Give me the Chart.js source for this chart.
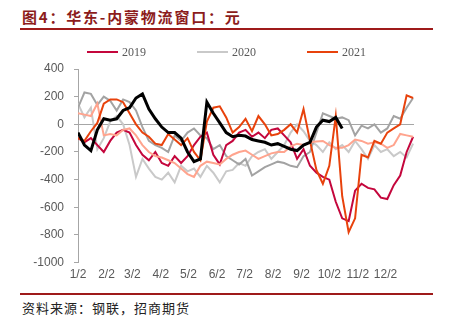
<!DOCTYPE html>
<html>
<head>
<meta charset="utf-8">
<script src="https://cdn.jsdelivr.net/npm/chart.js@4/dist/chart.umd.min.js"></script>
<style>
  html, body { margin: 0; padding: 0; background: #fff; }
  #wrap { position: relative; width: 449px; height: 322px; overflow: hidden; }
  #title {
    position: absolute; left: 22px; top: 6px;
    font: bold 15px "Noto Sans CJK SC", sans-serif; letter-spacing: 1.8px;
    color: #8c1c1c; white-space: nowrap;
  }
  #rule-top { position: absolute; left: 20px; top: 28px; width: 413px; height: 2px; background: #9e1a1a; }
  #rule-bottom { position: absolute; left: 20px; top: 293px; width: 413px; height: 2px; background: #9e1a1a; }
  #source {
    position: absolute; left: 22px; top: 298px;
    font: 13px "Noto Sans CJK SC", sans-serif; letter-spacing: 1px;
    color: #222; white-space: nowrap;
  }
  #box { position: absolute; left: 0; top: 38px; width: 449px; height: 249px; }
</style>
</head>
<body>
<div id="wrap">
  <div id="title">图4：华东-内蒙物流窗口：元</div>
  <div id="rule-top"></div>
  <div id="box"><canvas id="chart"></canvas></div>
  <div id="rule-bottom"></div>
  <div id="source">资料来源：钢联，招商期货</div>
</div>
<script>
// weekly readings, day 0 = 1/2
const weekStep = 7;
const monthTickDays = [0, 31, 59, 90, 120, 151, 181, 212, 243, 273, 304, 334];
const monthTickLabels = ['1/2', '2/2', '3/2', '4/2', '5/2', '6/2', '7/2', '8/2', '9/2', '10/2', '11/2', '12/2'];

const y2019 = [-100, -130, -100, -150, -200, -120, -60, -40, -60, -150, -220, -260, -200, -280, -300, -230,
  -280, -230, -150, -90, -60, -220, -290, -150, -120, -60, -40, -90, -60, -100, -40, -30, -80, -130, -250,
  -180, -300, -350, -380, -400, -560, -680, -700, -480, -430, -460, -470, -530, -540, -440, -370, -200, -90];
const y2020 = [150, 50, 120, -180, -100, 20, 60, 0, -150, -380, -250, -320, -380, -400, -350, -420, -300,
  -340, -320, -380, -300, -350, -420, -340, -330, -280, -300, -230, -200, -180, -250, -200, -150, -60, 0,
  -50, -120, -150, -200, -130, -180, -150, -200, -120, -180, -250, -150, -200, -180, -230, -200, -240, -140];
const y2021 = [-100, -120, -50, 10, 150, 180, 180, 160, 80, 0, -60, -90, -140, -150, -70, -110, -150, -100,
  -200, -260, 20, 120, 130, 50, -60, -20, 40, -50, 60, 0, -80, -70, -40, 0, -60, 110, -120, -330, -430,
  -300, 60, -520, -780, -680, -220, -240, -120, -140, -60, -30, 0, 210, 190];
const yBlack = [-60, -150, -190, -40, 40, 30, 40, 100, 120, 190, 220, 110, 40, -20, -60, -60, -100, -200,
  -270, -250, 160, 80, 10, -60, -90, -80, -85, -110, -120, -130, -150, -140, -160, -180, -190, -150, -130,
  -20, 30, 20, 50, -30];
const ySalmon = [80, 70, 60, 150, -80, -70, -80, -40, -30, -80, -150, -200, -230, -240, -260, -280, -320,
  -360, -380, -300, -270, -280, -290, -250, -220, -200, -190, -220, -250, -230, -210, -200, -200, -160,
  -140, -150, -130, -125, -120, -150, -170, -170, -150, -110, -120, -140, -130, -140, -170, -150, -70, -80, -90];
const yDarkGray = [120, 230, 220, 140, 200, 170, 100, 180, 160, 100, -20, -120, -150, -170, -200, -80, -120,
  -60, -30, -80, -100, -180, -150, -230, -260, -290, -250, -370, -340, -310, -290, -270, -280, -300, -310,
  -230, -200, -60, 80, 60, 40, 50, 30, -80, -10, -30, 0, -60, -30, 60, 40, 120, 190];

const toPoints = arr => arr.map((v, i) => ({ x: i * weekStep, y: v }));
const shown = ['2019', '2020', '2021'];

// legend drawn on the canvas, from the dataset labels and colours
const lineLegend = {
  id: 'lineLegend',
  afterDraw(chart) {
    const c = chart.ctx;
    const items = chart.data.datasets.filter(d => shown.includes(d.label));
    c.save();
    c.font = '12px "Liberation Serif"';
    c.textBaseline = 'middle';
    items.forEach((d, i) => {
      const x = 87 + i * 110, y = 14;
      c.strokeStyle = d.borderColor;
      c.lineWidth = 2;
      c.beginPath();
      c.moveTo(x, y);
      c.lineTo(x + 31, y);
      c.stroke();
      c.fillStyle = '#595959';
      c.fillText(d.label, x + 35, y + 1);
    });
    c.restore();
  }
};

const ctx = document.getElementById('chart').getContext('2d');
const chart = new Chart(ctx, {
  type: 'line',
  data: {
    datasets: [
      { label: '2019', data: toPoints(y2019), borderColor: '#c4063c', borderWidth: 2, order: 4 },
      { label: '2020', data: toPoints(y2020), borderColor: '#c9c9c9', borderWidth: 2, order: 6 },
      { label: '2021', data: toPoints(y2021), borderColor: '#e8420c', borderWidth: 2, order: 2 },
      { label: 'other1', data: toPoints(ySalmon), borderColor: '#ffa48e', borderWidth: 2, order: 3 },
      { label: 'other2', data: toPoints(yDarkGray), borderColor: '#a3a3a3', borderWidth: 2, order: 5 },
      { label: 'other3', data: toPoints(yBlack), borderColor: '#000000', borderWidth: 3, order: 1 }
    ]
  },
  options: {
    responsive: true,
    maintainAspectRatio: false,
    animation: false,
    elements: { point: { radius: 0 }, line: { tension: 0 } },
    layout: { padding: { left: 0, right: 35, top: 31, bottom: 0 } },
    scales: {
      x: {
        type: 'linear',
        min: 0,
        max: 365,
        grid: { display: false, drawTicks: false },
        border: { display: false },
        afterBuildTicks: axis => { axis.ticks = monthTickDays.map(v => ({ value: v })); },
        ticks: {
          autoSkip: false,
          maxRotation: 0,
          padding: 5,
          color: '#595959',
          font: { family: 'Liberation Sans', size: 12 },
          callback: function(value) {
            const i = monthTickDays.indexOf(value);
            return i >= 0 ? monthTickLabels[i] : '';
          }
        }
      },
      y: {
        min: -1000,
        max: 400,
        afterFit: axis => { axis.width = 78; },
        border: { display: true, color: '#a6a6a6', width: 1 },
        grid: {
          drawOnChartArea: true,
          color: c => (c.tick && c.tick.value === 0 ? '#a6a6a6' : 'rgba(0,0,0,0)'),
          tickColor: '#a6a6a6',
          tickLength: 4
        },
        ticks: {
          stepSize: 200,
          padding: 10,
          color: '#595959',
          font: { family: 'Liberation Sans', size: 12 },
          callback: v => String(v)
        }
      }
    },
    plugins: {
      tooltip: { enabled: false },
      legend: { display: false }
    }
  },
  plugins: [lineLegend]
});
</script>
</body>
</html>
